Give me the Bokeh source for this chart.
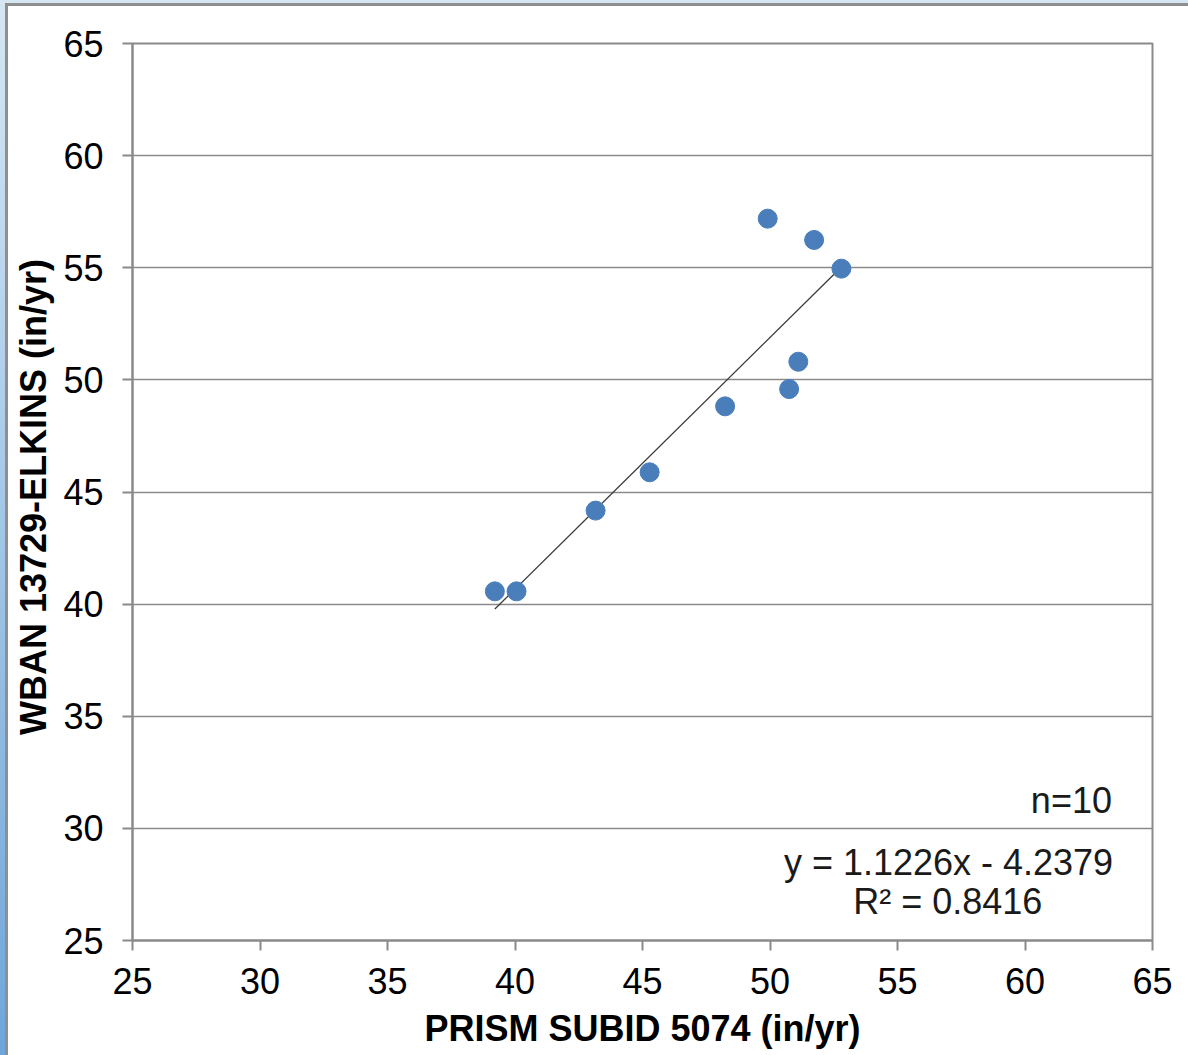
from bokeh.plotting import figure
from bokeh.models import Range1d, Label, FixedTicker
from bokeh.embed import file_html
from bokeh.resources import INLINE

# data
prism_x = [39.21, 40.06, 43.16, 45.28, 48.24, 49.91, 50.75, 51.11, 51.73, 52.80]
wban_y = [40.57, 40.57, 44.17, 45.88, 48.82, 57.19, 49.59, 50.81, 56.24, 54.96]
slope = 1.1226
intercept = -4.2379
r2 = 0.8416
n_obs = 10
ticks = [25, 30, 35, 40, 45, 50, 55, 60, 65]

FONT = "Liberation Sans"
GRID = "#8a8a8a"

p = figure(width=1180, height=1049, output_backend="svg", toolbar_location=None,
           x_range=Range1d(25, 65), y_range=Range1d(25, 65),
           min_border_left=124, min_border_right=36, min_border_top=37, min_border_bottom=115)
p.background_fill_color = "white"
p.border_fill_color = "white"
p.outline_line_color = GRID
p.outline_line_width = 2

p.xgrid.grid_line_color = None
p.ygrid.grid_line_color = GRID
p.ygrid.grid_line_width = 1.5

for ax in (p.xaxis[0], p.yaxis[0]):
    ax.ticker = FixedTicker(ticks=ticks)
    ax.axis_line_color = GRID
    ax.axis_line_width = 2
    ax.major_tick_line_color = GRID
    ax.major_tick_line_width = 2
    ax.major_tick_in = 0
    ax.major_tick_out = 10
    ax.minor_tick_line_color = None
    ax.major_label_text_font = FONT
    ax.major_label_text_font_size = "36px"
    ax.major_label_text_color = "black"
    ax.axis_label_text_font = FONT
    ax.axis_label_text_font_size = "36px"
    ax.axis_label_text_font_style = "bold"
    ax.axis_label_text_color = "black"

p.xaxis.axis_label = "PRISM SUBID 5074 (in/yr)"
p.yaxis.axis_label = "WBAN  13729-ELKINS (in/yr)"
p.xaxis.major_label_standoff = 17
p.yaxis.major_label_standoff = 19
p.xaxis.axis_label_standoff = 11
p.yaxis.axis_label_standoff = 6

# trend line
x0, x1 = min(prism_x), max(prism_x)
p.line([x0, x1], [slope * x0 + intercept, slope * x1 + intercept],
       line_color="#3a3a3a", line_width=1.3)

p.scatter(prism_x, wban_y, size=19, fill_color="#4a7ebb", line_color="#4a7ebb")

p.add_layout(Label(x=63.41, y=31.26, text=f"n={n_obs}", text_align="right",
                   text_baseline="middle", text_font=FONT, text_font_size="36px",
                   text_color="#1a1a1a"))
p.add_layout(Label(x=57.0, y=28.5, text=f"y = {slope:.4f}x - {-intercept:.4f}",
                   text_align="center", text_baseline="middle", text_font=FONT,
                   text_font_size="36px", text_color="#1a1a1a"))
p.add_layout(Label(x=56.97, y=26.72, text=f"R² = {r2:.4f}", text_align="center",
                   text_baseline="middle", text_font=FONT, text_font_size="36px",
                   text_color="#1a1a1a"))

css = ("<style>html{background:linear-gradient(#d6e7f3,#6ea6da) !important;min-height:100%;}"
       "body{margin:3px 0 0 5px !important;padding:0 !important;"
       "border-left:3px solid #8f8f8f;border-top:3px solid #8f8f8f;"
       "background:white !important;box-sizing:content-box !important;"
       "width:1180px;height:1049px !important;overflow:hidden;}</style>")
html = file_html(p, INLINE)
html = html.replace("</head>", css + "</head>", 1)
open("out.html", "w").write(html)
